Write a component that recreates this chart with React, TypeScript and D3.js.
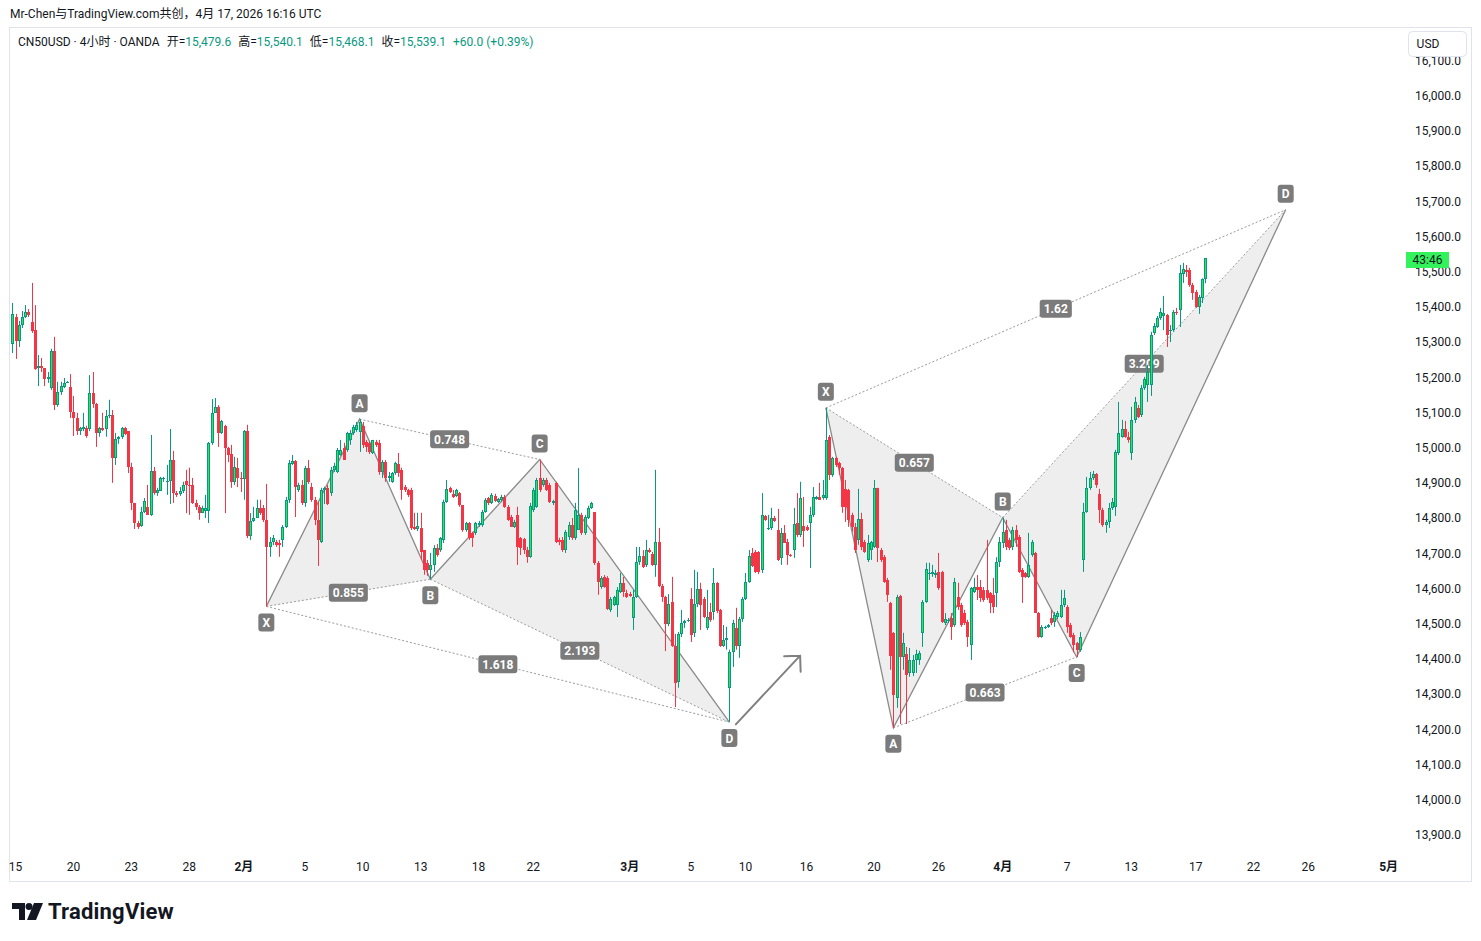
import { useEffect, useRef } from 'react';
import * as d3 from 'd3';

// open, close, high, low
type Bar = [number, number, number, number];

const janBars: Bar[] = [
  [15296, 15381, 15412, 15270], [15372, 15304, 15381, 15253], [15304, 15349, 15361, 15287], [15349, 15372, 15389, 15341],
  [15372, 15386, 15406, 15369], [15386, 15378, 15395, 15372], [15358, 15332, 15469, 15327], [15335, 15225, 15406, 15222],
  [15227, 15233, 15264, 15176], [15233, 15227, 15256, 15216], [15227, 15196, 15227, 15176], [15196, 15202, 15216, 15185],
  [15170, 15276, 15282, 15165], [15276, 15122, 15316, 15108], [15122, 15159, 15188, 15117], [15159, 15176, 15188, 15151],
  [15173, 15185, 15199, 15170], [15185, 15188, 15190, 15185], [15173, 15102, 15210, 15085], [15102, 15085, 15148, 15034],
  [15085, 15048, 15100, 15037], [15048, 15057, 15060, 15037], [15054, 15060, 15100, 15048], [15057, 15034, 15063, 15029],
  [15054, 15156, 15207, 15048], [15156, 15125, 15216, 15114], [15125, 15043, 15128, 15003], [15043, 15057, 15060, 15032],
  [15057, 15051, 15100, 15048], [15054, 15091, 15108, 15032], [15091, 15094, 15137, 15085], [15094, 14972, 15108, 14901],
  [14972, 15026, 15043, 14952], [15026, 15032, 15034, 15012], [15032, 15057, 15060, 15026], [15057, 15040, 15060, 15037],
  [15048, 14946, 15048, 14929], [14946, 14844, 14958, 14824], [14844, 14787, 14844, 14770], [14787, 14776, 14793, 14770],
  [14779, 14818, 14833, 14776], [14818, 14849, 14858, 14815], [14833, 14810, 14895, 14810], [14810, 14935, 15037, 14807],
  [14935, 14872, 14946, 14867], [14872, 14881, 14887, 14864], [14878, 14915, 14918, 14878], [14912, 14915, 14918, 14904],
  [14904, 14906, 14952, 14867], [14906, 14966, 15054, 14841], [14966, 14872, 14992, 14844], [14872, 14867, 14878, 14861],
  [14870, 14878, 14889, 14864], [14878, 14895, 14904, 14872], [14907, 14895, 14938, 14815], [14895, 14892, 14944, 14810],
  [14895, 14844, 14915, 14841], [14844, 14833, 14853, 14824], [14833, 14815, 14838, 14796], [14815, 14830, 14836, 14815],
  [14821, 14830, 14867, 14801], [14821, 15014, 15017, 14787], [15014, 15100, 15139, 15009], [15100, 15117, 15142, 15100],
  [15117, 15043, 15122, 15003], [15043, 15077, 15080, 15040], [15063, 15000, 15066, 14815], [15000, 14980, 15003, 14960],
  [14983, 14904, 15009, 14887], [14904, 14946, 14975, 14895], [14943, 14915, 14972, 14889], [14915, 14912, 14932, 14875],
];

const febBars: Bar[] = [
  [14912, 15048, 15051, 14853], [15048, 14750, 15066, 14744], [14750, 14793, 14815, 14739], [14793, 14801, 14833, 14790],
  [14801, 14830, 14853, 14801], [14830, 14816, 14853, 14810], [14830, 14796, 14838, 14790], [14796, 14719, 14898, 14550],
  [14719, 14733, 14747, 14691], [14733, 14745, 14753, 14724], [14733, 14724, 14739, 14719], [14730, 14724, 14739, 14691],
  [14739, 14776, 14781, 14719], [14776, 14853, 14861, 14773], [14853, 14958, 14966, 14844], [14955, 14964, 14980, 14952],
  [14964, 14890, 14966, 14804], [14881, 14895, 14901, 14875], [14895, 14844, 14909, 14838], [14844, 14944, 14949, 14833],
  [14944, 14904, 14966, 14898], [14890, 14853, 14901, 14847], [14853, 14796, 14861, 14781], [14796, 14739, 14847, 14665],
  [14733, 14881, 14887, 14730], [14881, 14887, 14890, 14841], [14887, 14841, 14895, 14838], [14872, 14938, 14946, 14864],
  [14938, 14949, 14958, 14932], [14932, 14995, 15000, 14929], [14980, 14995, 15023, 14978], [15000, 14966, 15015, 14966],
  [14995, 15043, 15046, 14989], [15023, 15043, 15051, 15009], [15043, 15060, 15066, 15037], [15051, 15066, 15074, 15046],
  [15046, 15074, 15082, 14989], [15063, 15009, 15074, 15000], [15017, 15003, 15023, 14989], [15015, 14989, 15020, 14983],
  [14986, 15023, 15023, 14983], [15017, 15009, 15023, 15003], [15015, 14932, 15023, 14924], [14932, 14960, 14966, 14915],
  [14960, 14915, 14966, 14904], [14915, 14921, 14932, 14904], [14904, 14929, 14932, 14901], [14929, 14958, 14961, 14924],
  [14955, 14929, 14986, 14918], [14938, 14881, 14944, 14853], [14890, 14881, 14895, 14875], [14881, 14867, 14884, 14861],
  [14881, 14773, 14887, 14767], [14776, 14770, 14816, 14767], [14770, 14779, 14816, 14764], [14773, 14705, 14816, 14682],
  [14710, 14654, 14710, 14640], [14674, 14654, 14682, 14637], [14654, 14668, 14702, 14627], [14668, 14716, 14724, 14648],
  [14716, 14696, 14727, 14691], [14710, 14745, 14747, 14705], [14739, 14847, 14853, 14730], [14847, 14884, 14909, 14844],
  [14887, 14875, 14890, 14872], [14870, 14861, 14881, 14858], [14864, 14881, 14884, 14861], [14872, 14838, 14875, 14833],
  [14838, 14767, 14838, 14762], [14767, 14787, 14790, 14762], [14787, 14745, 14790, 14739], [14759, 14745, 14762, 14719],
  [14759, 14787, 14790, 14753], [14781, 14787, 14793, 14776], [14781, 14818, 14824, 14776], [14818, 14853, 14858, 14816],
  [14858, 14844, 14861, 14838], [14844, 14867, 14872, 14841], [14864, 14850, 14870, 14847], [14847, 14856, 14858, 14844],
  [14853, 14861, 14867, 14847], [14861, 14833, 14867, 14830], [14833, 14796, 14838, 14793], [14804, 14776, 14810, 14776],
  [14776, 14790, 14796, 14773], [14810, 14719, 14833, 14668], [14745, 14716, 14747, 14696], [14742, 14710, 14745, 14699],
  [14710, 14691, 14719, 14674], [14691, 14835, 14844, 14688], [14824, 14881, 14887, 14818], [14833, 14909, 14915, 14830],
  [14915, 14881, 14967, 14875], [14895, 14909, 14915, 14890], [14909, 14881, 14915, 14878], [14895, 14847, 14901, 14844],
  [14844, 14850, 14853, 14838], [14901, 14733, 14904, 14730], [14739, 14733, 14745, 14724], [14739, 14710, 14747, 14705],
  [14710, 14761, 14767, 14702], [14747, 14781, 14790, 14739], [14781, 14745, 14801, 14739], [14745, 14824, 14844, 14739],
  [14767, 14810, 14943, 14767], [14810, 14759, 14816, 14753], [14759, 14804, 14810, 14753], [14801, 14830, 14836, 14798],
  [14830, 14844, 14847, 14827], [14818, 14674, 14818, 14668], [14674, 14619, 14679, 14583], [14605, 14631, 14636, 14600],
  [14634, 14605, 14639, 14603], [14631, 14543, 14636, 14540], [14540, 14571, 14577, 14534], [14554, 14577, 14580, 14551],
  [14554, 14597, 14605, 14520], [14591, 14617, 14645, 14588], [14617, 14591, 14634, 14577], [14588, 14577, 14597, 14574],
];

const marBars: Bar[] = [
  [14585, 14580, 14591, 14577], [14517, 14577, 14597, 14483], [14577, 14676, 14719, 14574], [14676, 14693, 14719, 14668],
  [14693, 14662, 14710, 14659], [14668, 14710, 14739, 14662], [14710, 14705, 14716, 14702], [14699, 14668, 14705, 14665],
  [14668, 14733, 14938, 14634], [14733, 14608, 14773, 14605], [14608, 14577, 14614, 14563], [14577, 14500, 14580, 14423],
  [14500, 14557, 14585, 14494], [14563, 14438, 14634, 14435], [14438, 14332, 14472, 14264], [14335, 14472, 14477, 14319],
  [14472, 14503, 14540, 14463], [14503, 14509, 14512, 14489], [14509, 14512, 14517, 14506], [14571, 14469, 14602, 14449],
  [14475, 14557, 14654, 14463], [14557, 14599, 14648, 14548], [14599, 14554, 14617, 14483], [14571, 14520, 14577, 14517],
  [14489, 14520, 14597, 14483], [14534, 14512, 14560, 14506], [14534, 14617, 14659, 14512], [14617, 14537, 14619, 14531],
  [14540, 14438, 14543, 14435], [14438, 14455, 14497, 14435], [14455, 14461, 14492, 14427], [14318, 14421, 14427, 14222],
  [14421, 14503, 14512, 14378], [14489, 14438, 14546, 14427], [14438, 14514, 14520, 14404], [14514, 14571, 14577, 14506],
  [14571, 14619, 14645, 14568], [14619, 14693, 14710, 14617], [14702, 14665, 14716, 14662], [14705, 14648, 14710, 14645],
  [14705, 14648, 14707, 14642], [14654, 14810, 14872, 14645], [14807, 14796, 14810, 14793], [14773, 14774, 14810, 14767],
  [14773, 14801, 14830, 14767], [14801, 14793, 14807, 14790], [14767, 14682, 14827, 14679], [14688, 14759, 14773, 14668],
  [14759, 14730, 14781, 14730], [14733, 14696, 14742, 14668], [14696, 14693, 14699, 14691], [14710, 14784, 14830, 14688],
  [14787, 14753, 14872, 14747], [14753, 14858, 14904, 14747], [14779, 14764, 14861, 14719], [14776, 14767, 14781, 14764],
  [14787, 14810, 14833, 14659], [14810, 14861, 14889, 14804], [14855, 14861, 14864, 14853], [14861, 14853, 14901, 14853],
  [14858, 14867, 14909, 14853], [14858, 15023, 15114, 14853], [15032, 14924, 15037, 14909], [14924, 14972, 14975, 14918],
  [14972, 14952, 14975, 14946], [14958, 14944, 14961, 14924], [14944, 14833, 14946, 14816], [14884, 14833, 14909, 14790],
  [14881, 14796, 14884, 14776], [14810, 14776, 14816, 14762], [14776, 14710, 14787, 14702], [14739, 14798, 14884, 14725],
  [14798, 14719, 14816, 14710], [14733, 14705, 14739, 14702], [14682, 14730, 14753, 14676], [14710, 14733, 14736, 14682],
  [14719, 14887, 14909, 14716], [14887, 14716, 14887, 14676], [14710, 14682, 14716, 14676], [14691, 14619, 14696, 14617],
  [14625, 14583, 14631, 14563], [14560, 14409, 14563, 14370], [14475, 14299, 14477, 14205], [14290, 14577, 14583, 14262],
  [14580, 14406, 14583, 14216], [14406, 14446, 14475, 14370], [14415, 14355, 14435, 14216], [14361, 14398, 14432, 14350],
  [14361, 14398, 14412, 14352], [14398, 14415, 14427, 14361], [14398, 14418, 14424, 14384], [14475, 14563, 14568, 14435],
  [14563, 14656, 14674, 14560], [14642, 14645, 14674, 14625], [14642, 14648, 14668, 14634], [14639, 14645, 14654, 14631],
  [14648, 14602, 14702, 14597], [14648, 14506, 14651, 14503], [14503, 14514, 14531, 14497], [14509, 14512, 14517, 14503],
  [14517, 14492, 14531, 14455], [14497, 14619, 14631, 14492], [14577, 14548, 14617, 14540], [14554, 14497, 14560, 14492],
  [14531, 14503, 14540, 14497], [14506, 14463, 14512, 14435], [14441, 14602, 14605, 14398], [14591, 14605, 14631, 14588],
  [14605, 14597, 14639, 14568], [14605, 14574, 14625, 14563], [14597, 14568, 14605, 14563], [14597, 14574, 14739, 14568],
  [14588, 14560, 14591, 14531], [14583, 14548, 14631, 14531], [14588, 14676, 14690, 14548], [14676, 14733, 14747, 14662],
];

const aprBars: Bar[] = [
  [14730, 14761, 14802, 14716], [14767, 14719, 14796, 14710], [14739, 14716, 14745, 14710], [14719, 14767, 14776, 14710],
  [14767, 14739, 14781, 14719], [14747, 14648, 14753, 14645], [14654, 14634, 14659, 14560], [14645, 14634, 14648, 14631],
  [14634, 14668, 14759, 14631], [14696, 14733, 14739, 14691], [14702, 14532, 14705, 14532], [14532, 14463, 14534, 14461],
  [14463, 14492, 14497, 14461], [14489, 14492, 14495, 14486], [14492, 14497, 14500, 14489], [14517, 14503, 14540, 14497],
  [14506, 14526, 14534, 14492], [14520, 14531, 14537, 14514], [14520, 14554, 14597, 14517], [14554, 14574, 14597, 14548],
  [14548, 14492, 14554, 14475], [14497, 14463, 14503, 14461], [14469, 14441, 14475, 14420], [14446, 14427, 14449, 14406],
  [14427, 14463, 14477, 14421], [14682, 14818, 14844, 14648], [14818, 14887, 14918, 14816], [14887, 14915, 14932, 14881],
  [14915, 14926, 14935, 14909], [14926, 14895, 14929, 14887], [14870, 14824, 14884, 14787], [14824, 14781, 14830, 14776],
  [14781, 14790, 14796, 14759], [14790, 14830, 14844, 14773], [14830, 14847, 14858, 14824], [14833, 14989, 14995, 14807],
  [14986, 15043, 15131, 14980], [15032, 15054, 15080, 15029], [15054, 15032, 15077, 15029], [15032, 15023, 15046, 15015],
  [14986, 15080, 15117, 14966], [15080, 15131, 15145, 15071], [15114, 15088, 15122, 15085], [15094, 15170, 15179, 15088],
  [15170, 15196, 15202, 15165], [15179, 15216, 15236, 15131], [15179, 15321, 15330, 15148], [15327, 15347, 15355, 15321],
  [15344, 15369, 15375, 15341], [15369, 15386, 15398, 15364], [15375, 15384, 15432, 15335], [15378, 15321, 15381, 15287],
  [15332, 15335, 15349, 15301], [15335, 15386, 15392, 15330], [15386, 15384, 15398, 15378], [15392, 15497, 15520, 15344],
  [15495, 15509, 15526, 15469], [15506, 15500, 15520, 15486], [15506, 15463, 15512, 15458], [15463, 15441, 15469, 15421],
  [15444, 15401, 15449, 15398], [15401, 15429, 15435, 15381], [15426, 15479.1, 15482, 15412], [15479.6, 15539.1, 15540.1, 15468.1],
];

// time axis: bar index of each label
const tickBars = [1, 19, 37, 55, 72, 91, 109, 127, 145, 162, 192, 211, 228, 247, 268, 288, 308, 328, 348, 368, 386, 403, 428];
const tickLabels = ['15', '20', '23', '28', '2月', '5', '10', '13', '18', '22', '3月', '5', '10', '16', '20', '26', '4月', '7', '13', '17', '22', '26', '5月'];

// XABCD patterns: bar of each point, price of X and A, ratios XB, AC, BD, XD
const pattern1Bars = [79, 108, 130, 164, 223];
const pattern1XA = [14550, 15082];
const pattern1Ratios = [0.855, 0.748, 2.193, 1.618];
const pattern2Bars = [253, 274, 308, 331, 396];
const pattern2XA = [15114, 14205];
const pattern2Ratios = [0.657, 0.663, 3.209, 1.62];

// hand-drawn arrow [bar, price]
const arrowFrom = [225, 14215];
const arrowTo = [245, 14410];

const snapshotTitle = 'Mr-Chen与TradingView.com共创，4月 17, 2026 16:16 UTC';
const symbolInfo = 'CN50USD · 4小时 · OANDA';
const currency = 'USD';
const countdown = '43:46';

const FONT = "Roboto, 'Noto Sans CJK SC', sans-serif";
const TEXT = '#131722';
const UP = '#089981';
const UP_FILL = '#2fe35a';
const DOWN = '#f23645';

const App = (): JSX.Element => {
  const svgRef = useRef<SVGSVGElement>(null);

  useEffect(() => {
    const bars = [...janBars, ...febBars, ...marBars, ...aprBars];
    const width = 1481;
    const height = 941;
    const plot = { left: 10, top: 28, right: 1403, bottom: 852 };

    const svg = d3.select(svgRef.current).attr('width', width).attr('height', height);
    svg.selectAll('*').remove();
    svg.append('rect').attr('width', width).attr('height', height).attr('fill', '#fff');

    const x = d3.scaleLinear().domain([0, bars.length - 1]).range([12.3, 1205.3]);
    const y = d3.scaleLinear().domain([13900, 16000]).range([835.2, 96]);

    svg
      .append('defs')
      .append('clipPath')
      .attr('id', 'plot-clip')
      .append('rect')
      .attr('x', plot.left)
      .attr('y', plot.top)
      .attr('width', plot.right - plot.left)
      .attr('height', plot.bottom - plot.top);

    // chart frame
    svg
      .append('rect')
      .attr('x', 9.5)
      .attr('y', 27.5)
      .attr('width', 1462)
      .attr('height', 854)
      .attr('fill', 'none')
      .attr('stroke', '#e0e3eb');

    // drawings sit under the series
    const fillLayer = svg.append('g').attr('clip-path', 'url(#plot-clip)');
    const drawLayer = svg.append('g').attr('clip-path', 'url(#plot-clip)');
    const candleLayer = svg.append('g').attr('clip-path', 'url(#plot-clip)');

    // candles
    bars.forEach(([o, c, h, l], i) => {
      const cx = Math.round(x(i));
      const rising = c >= o;
      const col = rising ? UP : DOWN;
      const hi = Math.max(h, o, c);
      const lo = Math.min(l, o, c);
      candleLayer
        .append('rect')
        .attr('x', cx)
        .attr('y', y(hi))
        .attr('width', 1)
        .attr('height', Math.max(1, y(lo) - y(hi)))
        .attr('fill', col);
      const top = Math.round(y(Math.max(o, c)));
      const bh = Math.max(1, Math.round(y(Math.min(o, c))) - top);
      candleLayer.append('rect').attr('x', cx - 1).attr('y', top).attr('width', 3).attr('height', bh).attr('fill', col);
      if (rising && bh > 2) {
        candleLayer.append('rect').attr('x', cx).attr('y', top + 1).attr('width', 1).attr('height', bh - 2).attr('fill', UP_FILL);
      }
    });

    const labelBox = (cx: number, cy: number, text: string) => {
      const g = drawLayer.append('g');
      const t = g
        .append('text')
        .attr('x', cx)
        .attr('y', cy + 4.5)
        .attr('text-anchor', 'middle')
        .attr('font-family', FONT)
        .attr('font-size', 12)
        .attr('font-weight', 700)
        .attr('fill', '#fff')
        .text(text);
      const w = Math.max(16, (t.node() as SVGTextElement).getComputedTextLength() + 8);
      g.insert('rect', 'text')
        .attr('x', cx - w / 2)
        .attr('y', cy - 9)
        .attr('width', w)
        .attr('height', 18)
        .attr('rx', 3)
        .attr('fill', '#7b7b7b');
    };

    const drawPattern = (barIdx: number[], xa: number[], ratios: number[]) => {
      const [pX, pA] = xa;
      const pB = pA - ratios[0] * (pA - pX);
      const pC = pB + ratios[1] * (pA - pB);
      const pD = pC - ratios[2] * (pC - pB);
      const prices = [pX, pA, pB, pC, pD];
      const pts: [number, number][] = prices.map((p, k) => [x(barIdx[k]), y(p)]);

      const tri = (a: number, b: number, c: number) =>
        fillLayer
          .append('path')
          .attr('d', d3.line()([pts[a], pts[b], pts[c]]) + 'Z')
          .attr('fill', 'rgba(120,123,134,0.13)');
      tri(0, 1, 2);
      tri(2, 3, 4);

      drawLayer
        .append('path')
        .attr('d', d3.line()(pts))
        .attr('fill', 'none')
        .attr('stroke', '#8a8a8a')
        .attr('stroke-width', 1.3);

      const dotted: [number, number][] = [[0, 2], [1, 3], [2, 4], [0, 4]];
      dotted.forEach(([a, b]) => {
        drawLayer
          .append('line')
          .attr('x1', pts[a][0])
          .attr('y1', pts[a][1])
          .attr('x2', pts[b][0])
          .attr('y2', pts[b][1])
          .attr('stroke', '#9a9a9a')
          .attr('stroke-width', 1)
          .attr('stroke-dasharray', '2 2');
      });
      dotted.forEach(([a, b], k) => {
        labelBox((pts[a][0] + pts[b][0]) / 2, (pts[a][1] + pts[b][1]) / 2, String(ratios[k]));
      });

      'XABCD'.split('').forEach((letter, k) => {
        const above = k === 0 ? prices[0] > prices[1] : prices[k] > prices[k - 1];
        labelBox(pts[k][0], pts[k][1] + (above ? -16 : 16), letter);
      });
    };

    drawPattern(pattern1Bars, pattern1XA, pattern1Ratios);
    drawPattern(pattern2Bars, pattern2XA, pattern2Ratios);

    // arrow
    const a0 = [x(arrowFrom[0]), y(arrowFrom[1])];
    const a1 = [x(arrowTo[0]), y(arrowTo[1])];
    const ang = Math.atan2(a1[1] - a0[1], a1[0] - a0[0]);
    const head = 16;
    const headPts = [ang + Math.PI - Math.PI / 4, ang + Math.PI + Math.PI / 4].map((t) => [
      a1[0] + head * Math.cos(t),
      a1[1] + head * Math.sin(t),
    ]);
    drawLayer
      .append('path')
      .attr('d', `M${a0[0]},${a0[1]}L${a1[0]},${a1[1]}M${headPts[0][0]},${headPts[0][1]}L${a1[0]},${a1[1]}L${headPts[1][0]},${headPts[1][1]}`)
      .attr('fill', 'none')
      .attr('stroke', '#808080')
      .attr('stroke-width', 2)
      .attr('stroke-linecap', 'round')
      .attr('stroke-linejoin', 'round');

    // price scale
    const priceFmt = d3.format(',.1f');
    d3.range(13900, 16101, 100).forEach((p) => {
      svg
        .append('text')
        .attr('x', 1461)
        .attr('y', y(p) + 4)
        .attr('text-anchor', 'end')
        .attr('font-family', FONT)
        .attr('font-size', 12)
        .attr('fill', TEXT)
        .text(priceFmt(p));
    });

    const last = bars[bars.length - 1];
    const prev = bars[bars.length - 2];
    svg
      .append('rect')
      .attr('x', 1406)
      .attr('y', Math.round(y(last[1])) - 6)
      .attr('width', 43)
      .attr('height', 16)
      .attr('fill', '#33f25b');
    svg
      .append('text')
      .attr('x', 1427.5)
      .attr('y', Math.round(y(last[1])) + 6)
      .attr('text-anchor', 'middle')
      .attr('font-family', FONT)
      .attr('font-size', 12)
      .attr('fill', TEXT)
      .text(countdown);

    svg
      .append('rect')
      .attr('x', 1408.5)
      .attr('y', 31.5)
      .attr('width', 58)
      .attr('height', 25)
      .attr('rx', 4)
      .attr('fill', '#fff')
      .attr('stroke', '#e0e3eb');
    svg
      .append('text')
      .attr('x', 1428)
      .attr('y', 48)
      .attr('text-anchor', 'middle')
      .attr('font-family', FONT)
      .attr('font-size', 12)
      .attr('fill', TEXT)
      .text(currency);

    // time scale
    tickBars.forEach((b, k) => {
      const label = tickLabels[k];
      svg
        .append('text')
        .attr('x', x(b))
        .attr('y', 871)
        .attr('text-anchor', 'middle')
        .attr('font-family', FONT)
        .attr('font-size', 12)
        .attr('font-weight', label.includes('月') ? 700 : 400)
        .attr('fill', TEXT)
        .text(label);
    });

    // title and legend
    svg
      .append('text')
      .attr('x', 10)
      .attr('y', 18)
      .attr('font-family', FONT)
      .attr('font-size', 12)
      .attr('fill', TEXT)
      .text(snapshotTitle);

    const legend = svg
      .append('text')
      .attr('x', 18)
      .attr('y', 46)
      .attr('font-family', FONT)
      .attr('font-size', 12)
      .attr('fill', TEXT);
    legend.append('tspan').text(symbolInfo);
    const fields: [string, number][] = [
      ['开=', last[0]],
      ['高=', last[2]],
      ['低=', last[3]],
      ['收=', last[1]],
    ];
    fields.forEach(([name, v]) => {
      legend.append('tspan').attr('dx', 7).text(name);
      legend.append('tspan').attr('fill', UP).text(priceFmt(v));
    });
    const chg = last[1] - prev[1];
    const pct = (chg / prev[1]) * 100;
    legend
      .append('tspan')
      .attr('dx', 7)
      .attr('fill', UP)
      .text(`${chg >= 0 ? '+' : ''}${d3.format('.1f')(chg)} (${pct >= 0 ? '+' : ''}${d3.format('.2f')(pct)}%)`);

    // footer logo
    const logo = svg.append('g').attr('fill', TEXT);
    logo.append('path').attr('d', 'M12,903H25V920H19V909H12Z');
    logo.append('circle').attr('cx', 29).attr('cy', 906.5).attr('r', 3.5);
    logo.append('path').attr('d', 'M34,903H43L36,920H27Z');
    logo
      .append('text')
      .attr('x', 48)
      .attr('y', 919)
      .attr('font-family', FONT)
      .attr('font-size', 22)
      .attr('font-weight', 700)
      .attr('letter-spacing', 0.2)
      .text('TradingView');
  }, []);

  return (
    <div style={{ position: 'absolute', left: 0, top: 0 }}>
      <svg ref={svgRef} />
    </div>
  );
};

export default App;
